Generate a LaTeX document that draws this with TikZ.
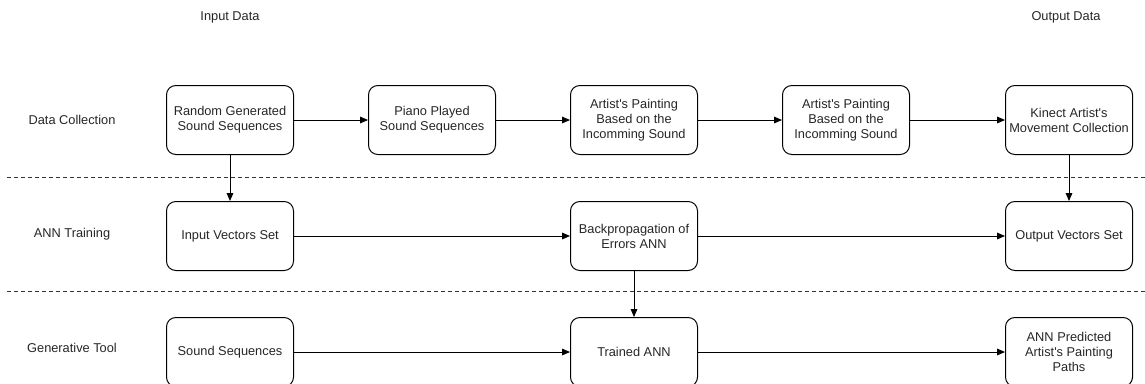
\documentclass[tikz,border=0pt]{standalone}
\usepackage{fontspec}
\setmainfont{Liberation Sans}
\usetikzlibrary{arrows.meta,positioning}

\newcommand{\apo}{\textquotesingle}

\begin{document}
\begin{tikzpicture}[->, >={Triangle[length=6pt,width=5pt]}, line width=0.75pt, x=1pt, y=1pt,
		font=\fontsize{9.6}{11.25}\selectfont, node distance=34.5pt and 55.5pt]
		\tikzstyle{box}=[draw=black, rounded corners=7pt, minimum width=95.25pt, minimum height=51.75pt, align=center, inner sep=1pt, text=black!85]
		\tikzstyle{lane}=[text=black!85]
		\tikzstyle{lanesep}=[-, line width=0.6pt, dash pattern=on 3pt off 2.25pt, black!80]
		\useasboundingbox (0,0) rectangle (858.75,-287.25);
		% headers and lane names
		\node[lane]   (indata)  at (172.5,-12.75)  {Input Data};
		\node[lane]   (outdata) at (799.5,-12.75)  {Output Data};
		\node[lane]   (dc)      at (54,-90)        {Data Collection};
		\node[lane]   (annt)    at (54,-175.5)     {ANN Training};
		\node[lane]   (gen)     at (54,-261)       {Generative Tool};
		% data collection
		\node[box]    (rnd)     at (172.5,-90)     {Random Generated\\Sound Sequences};
		\node[box]    (piano)   [right = of rnd]   {Piano Played\\Sound Sequences};
		\node[box]    (paint1)  [right = of piano] {Artist\apo s Painting\\Based on the\\Incomming Sound};
		\node[box]    (paint2)  [right = 63pt of paint1]    {Artist\apo s Painting\\Based on the\\Incomming Sound};
		\node[box]    (kinect)  [right = 71.25pt of paint2] {Kinect Artist\apo s\\Movement Collection};
		% ann training
		\node[box]    (invec)   [below = of rnd]    {Input Vectors Set};
		\node[box]    (backprop)[below = of paint1] {Backpropagation of\\Errors ANN};
		\node[box]    (outvec)  [below = of kinect] {Output Vectors Set};
		% generative tool
		\node[box]    (sound)   [below = of invec]    {Sound Sequences};
		\node[box]    (trained) [below = of backprop] {Trained ANN};
		\node[box]    (pred)    [below = of outvec]   {ANN Predicted\\Artist\apo s Painting\\Paths};
		% lane separators
		\draw[lanesep] (5.25,-132.75) -- (858.75,-132.75);
		\draw[lanesep] (5.25,-218.25) -- (858.75,-218.25);
		\path
		(rnd) edge (piano)
		(piano) edge (paint1)
		(paint1) edge (paint2)
		(paint2) edge (kinect)
		(rnd) edge (invec)
		(kinect) edge (outvec)
		(invec) edge (backprop)
		(backprop) edge (outvec)
		(backprop) edge (trained)
		(sound) edge (trained)
		(trained) edge (pred);
	\end{tikzpicture}
\end{document}
